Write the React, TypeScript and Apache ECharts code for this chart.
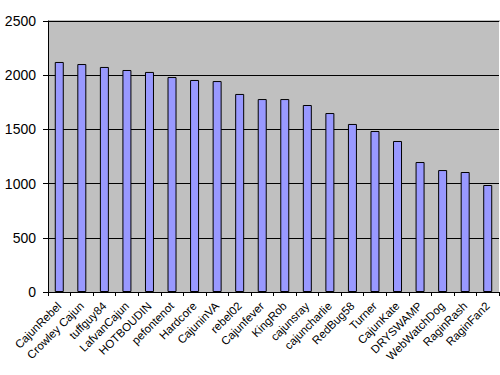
import React, { useEffect, useRef } from "react";
import * as echarts from "echarts";

const categories = [
  "CajunRebel", "Crowley Cajun", "tuffguy84", "LafvanCajun", "HOTBOUDIN",
  "pefontenot", "Hardcore", "CajuninVA", "rebel02", "Cajunfever",
  "KingRob", "cajunsray", "cajuncharlie", "RedBug58", "Turner",
  "CajunKate", "DRYSWAMP", "WebWatchDog", "RaginRash", "RaginFan2",
];
const values = [
  2122, 2103, 2076, 2048, 2030, 1983, 1956, 1946, 1827, 1780,
  1780, 1725, 1651, 1550, 1485, 1393, 1199, 1125, 1107, 987,
];
const yTicks = { min: 0, max: 2500, interval: 500 };

export default function App() {
  const ref = useRef<HTMLDivElement>(null);
  useEffect(() => {
    if (!ref.current) return;
    const chart = echarts.init(ref.current, null, { renderer: "svg" });
    chart.setOption({
      animation: false,
      backgroundColor: "#ffffff",
      textStyle: { fontFamily: "Liberation Sans, Arial, sans-serif" },
      grid: {
        left: 48, right: 1, top: 21, bottom: 83,
        show: true, backgroundColor: "#C0C0C0", borderColor: "#808080", borderWidth: 0,
      },
      xAxis: {
        type: "category",
        data: categories,
        axisLine: { show: true, lineStyle: { color: "#000", width: 1 } },
        axisTick: { show: true, length: 4, lineStyle: { color: "#000" } },
        axisLabel: {
          rotate: 45, color: "#000", fontSize: 11.5, margin: 12,
          fontFamily: "Liberation Sans, Arial, sans-serif", interval: 0,
        },
      },
      yAxis: {
        type: "value",
        min: yTicks.min, max: yTicks.max, interval: yTicks.interval,
        axisLine: { show: true, lineStyle: { color: "#000", width: 1 } },
        axisTick: { show: true, length: 5, lineStyle: { color: "#000" } },
        axisLabel: {
          color: "#000", fontSize: 14, margin: 12,
          fontFamily: "Liberation Sans, Arial, sans-serif",
          formatter: (v: number) => String(v),
        },
        splitLine: { show: true, lineStyle: { color: "#000", width: 1 } },
      },
      graphic: [
        {
          type: "line",
          shape: { x1: 48, y1: 21, x2: 500, y2: 21 },
          style: { stroke: "#808080", lineWidth: 1 },
        },
      ],
      series: [
        {
          type: "bar",
          data: values,
          barWidth: 9,
          itemStyle: { color: "#9999FF", borderColor: "#000", borderWidth: 1 },
        },
      ],
    });
    return () => chart.dispose();
  }, []);
  return (
    <div
      ref={ref}
      style={{ position: "absolute", left: 0, top: 0, width: 500, height: 375 }}
    />
  );
}
